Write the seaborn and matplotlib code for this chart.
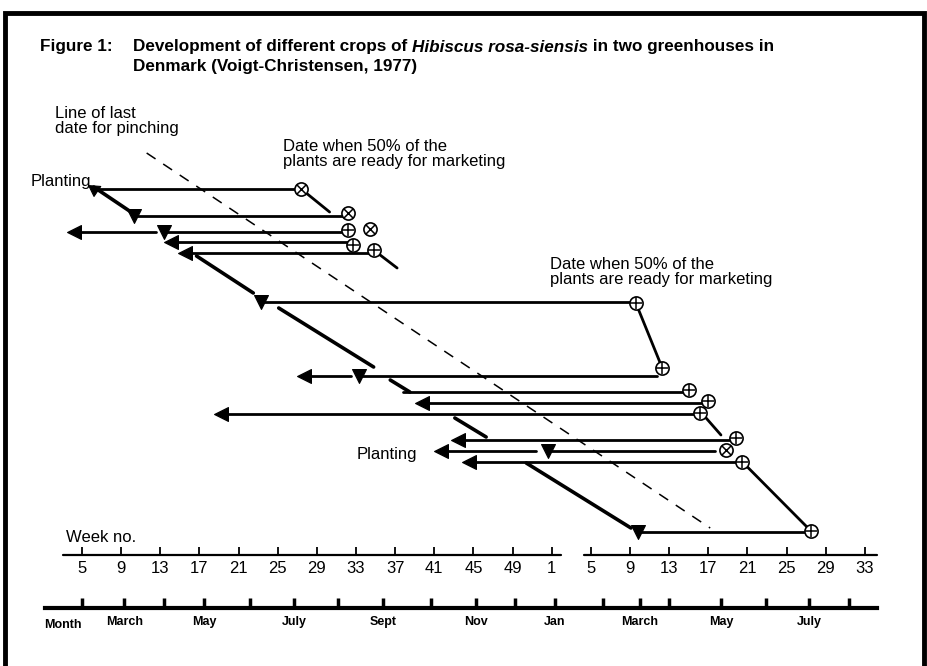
import matplotlib
matplotlib.use('Agg')
import matplotlib.pyplot as plt
from matplotlib.patches import Rectangle
import seaborn as sns
import pandas as pd

# crop rows, top to bottom: planting week, week when 50% ready, row level
row_pos    = [189, 216, 232, 242, 253, 302, 376, 392, 403, 414, 440, 451, 462, 532]
plant_week = [6.2, 10.3, 13.4, 14.1, 15.5, 23.3, 33.3, 37.8, 39.7, 19.2, 43.4, 52.6, 44.5, 61.8]
ready_week = [27.4, 32.2, 32.2, 32.7, 34.8, 61.6, 63.8, 67.0, 69.0, 68.2, 71.8, 69.7, 72.5, 79.5]
# arrow heads: 'ul' up-left, '<' left, 'v' down, '' none
plant_mark = ['ul', 'v', 'v', '<', '<', 'v', 'v', '', '<', '<', '<', 'v', '<', 'v']

# earlier plantings (short stubs ending in an arrow)
stub_start = [4.2, 27.7, 41.7]
stub_end   = [12.6, 32.5, 51.4]
stub_pos   = [232, 376, 451]

# 50% ready markers
mark_week  = [27.4, 32.2, 32.2, 34.4, 32.7, 34.8, 61.6, 64.3, 67.0, 69.0, 68.2, 71.8, 70.8, 72.5, 79.5]
mark_pos   = [189, 213, 230, 229, 245, 250, 303, 368, 390, 401, 413, 438, 450, 462, 531]
mark_cross = ['x', 'x', '+', 'x', '+', '+', '+', '+', '+', '+', '+', '+', 'x', '+', '+']

# links between ready dates
link_w0 = [27.4, 34.8, 61.6, 68.6, 72.5]
link_w1 = [30.3, 37.2, 64.3, 70.3, 79.5]
link_p0 = [189, 250, 303, 416, 462]
link_p1 = [212, 268, 368, 435, 531]

# planting line, broken where it crosses the rows
plant_w0 = [6.2, 16.7, 25.1, 36.5, 43.1, 50.4]
plant_w1 = [10.0, 22.5, 34.8, 38.5, 46.3, 61.1]
plant_p0 = [187, 256, 308, 380, 418, 463]
plant_p1 = [212, 293, 367, 392, 437, 528]

# line of last date for pinching
pinch_week = [11.6, 69.2]
pinch_pos  = [153, 528]

week_ticks  = list(range(5, 86, 4))
week_labels = ['5', '9', '13', '17', '21', '25', '29', '33', '37', '41', '45', '49',
               '1', '5', '9', '13', '17', '21', '25', '29', '33']
month_ticks  = [5.0, 9.3, 13.4, 17.5, 22.2, 26.7, 31.2, 35.8, 40.7, 45.3,
                49.3, 53.3, 58.2, 62.0, 65.0, 70.3, 74.9, 79.3, 83.4]
month_labels = ['', 'March', '', 'May', '', 'July', '', 'Sept', '', 'Nov',
                '', 'Jan', '', 'March', '', 'May', '', 'July', '']

sns.set_style('white')
plt.rcParams['font.family'] = ['Liberation Sans', 'DejaVu Sans']
plt.rcParams['text.color'] = 'black'
plt.rcParams['xtick.color'] = 'black'

W, H = 927, 666
fig = plt.figure(figsize=(W / 100, H / 100), dpi=100)


def fx(px):
    return px / W


def fy(py):
    return 1 - py / H


def segs(w0, w1, p0, p1):
    n = len(w0)
    return pd.DataFrame({'seg': list(range(n)) * 2,
                         'week': list(w0) + list(w1),
                         'pos': list(p0) + list(p1)})


ax = fig.add_axes([fx(40), fy(555), fx(900) - fx(40), fy(140) - fy(555)])
ax.patch.set_alpha(0)

line_kw = dict(x='week', y='pos', units='seg', estimator=None, sort=False,
               color='black', ax=ax, legend=False)
sns.lineplot(data=segs(plant_week, ready_week, row_pos, row_pos), lw=2, **line_kw)
sns.lineplot(data=segs(stub_start, stub_end, stub_pos, stub_pos), lw=2, **line_kw)
sns.lineplot(data=segs(link_w0, link_w1, link_p0, link_p1), lw=2, **line_kw)
sns.lineplot(data=segs(plant_w0, plant_w1, plant_p0, plant_p1), lw=2.6, **line_kw)
ax.plot(pinch_week, pinch_pos, color='black', lw=1.1, ls=(0, (7, 6)))

marker_shapes = {'ul': (3, 0, 56), '<': '<', 'v': 'v'}
plant_df = pd.DataFrame({'week': plant_week, 'pos': row_pos, 'mark': plant_mark})
for key, shape in marker_shapes.items():
    sub = plant_df[plant_df['mark'] == key]
    sns.scatterplot(data=sub, x='week', y='pos', marker=shape, s=100, color='black',
                    edgecolor='black', ax=ax, zorder=4)
sns.scatterplot(x=stub_start, y=stub_pos, marker='<', s=100, color='black',
                edgecolor='black', ax=ax, zorder=4)

sns.scatterplot(x=mark_week, y=mark_pos, marker='o', s=90, color='white',
                edgecolor='black', linewidth=1.2, ax=ax, zorder=5)
cross_df = pd.DataFrame({'week': mark_week, 'pos': mark_pos, 'cross': mark_cross})
for m in ['+', 'x']:
    sub = cross_df[cross_df['cross'] == m]
    ax.scatter(sub['week'], sub['pos'], marker=m, s=64 if m == '+' else 48,
               c='black', linewidths=1.1, zorder=6)

ax.set_xlim(0.7, 88.6)
ax.set_ylim(555, 140)
ax.set(xlabel='', ylabel='')
ax.set_yticks([])
for s in ax.spines.values():
    s.set_visible(False)

# week axis, with a break at the turn of the year
xt = ax.get_xaxis_transform()
for a, b in [(3.0, 53.9), (56.3, 86.2)]:
    ax.plot([a, b], [0, 0], color='black', lw=1.6, transform=xt, clip_on=False)
ax.set_xticks(week_ticks, week_labels)
ax.tick_params(axis='x', bottom=True, direction='in', length=6, width=1.3,
               pad=4, labelsize=12)

# month axis
mx = fig.add_axes([fx(40), fy(608), fx(900) - fx(40), 0.0001])
mx.patch.set_alpha(0)
mx.set_xlim(0.7, 88.6)
mx.set_yticks([])
for s in ['top', 'left', 'right']:
    mx.spines[s].set_visible(False)
mx.spines['bottom'].set_linewidth(3)
mx.spines['bottom'].set_color('black')
mx.spines['bottom'].set_bounds(1.2, 86.2)
mx.set_xticks(month_ticks, month_labels)
mx.tick_params(axis='x', bottom=True, direction='in', length=7, width=2.5,
               pad=6, labelsize=9)
for lab in mx.get_xticklabels():
    lab.set_fontweight('bold')
fig.text(fx(63), fy(625), 'Month', fontsize=9, fontweight='bold', ha='center', va='center')

# frame
fig.add_artist(Rectangle((fx(5), fy(720)), fx(924) - fx(5), fy(13) - fy(720),
                         fill=False, lw=3.5, ec='black', transform=fig.transFigure,
                         clip_on=False))

# title, pieces laid side by side
renderer = fig.canvas.get_renderer()


def put_line(pieces, x_px, y_px, size=12.3):
    x = fx(x_px)
    for txt, style in pieces:
        t = fig.text(x, fy(y_px), txt, fontsize=size, fontweight='bold',
                     fontstyle=style, ha='left', va='center')
        x = fx(t.get_window_extent(renderer=renderer).x1)


put_line([('Figure 1:', 'normal')], 40, 47)
put_line([('Development of different crops of ', 'normal'),
          ('Hibiscus rosa-siensis', 'italic'),
          (' in two greenhouses in', 'normal')], 133, 47)
put_line([('Denmark (Voigt-Christensen, 1977)', 'normal')], 133, 67)

note_kw = dict(fontsize=12, ha='left', va='center', linespacing=1.0)
fig.text(fx(55), fy(121), 'Line of last\ndate for pinching', **note_kw)
fig.text(fx(283), fy(154), 'Date when 50% of the\nplants are ready for marketing', **note_kw)
fig.text(fx(550), fy(272), 'Date when 50% of the\nplants are ready for marketing', **note_kw)
fig.text(fx(31), fy(182), 'Planting', **note_kw)
fig.text(fx(357), fy(454), 'Planting', **note_kw)
fig.text(fx(66), fy(537), 'Week no.', **note_kw)

fig.savefig('out.png', dpi=100)
